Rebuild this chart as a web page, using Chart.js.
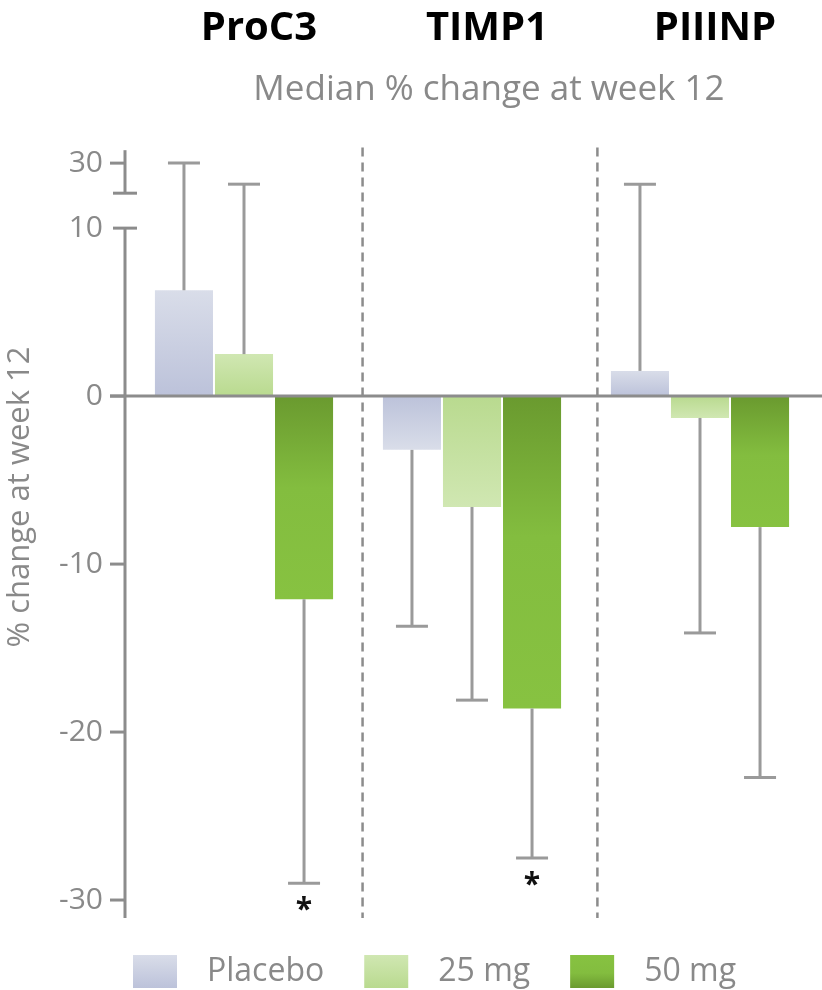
<!DOCTYPE html>
<html><head><meta charset="utf-8">
<script src="https://cdn.jsdelivr.net/npm/chart.js@4"></script>
<style>html,body{margin:0;padding:0;background:#fff;}canvas{display:block;}</style>
</head><body>
<canvas id="c" width="822" height="990"></canvas>
<script>
// ---- data ----
const categories = ['ProC3', 'TIMP1', 'PIIINP'];
const seriesNames = ['Placebo', '25 mg', '50 mg'];
const placebo = [6.3, -3.2, 1.5];
const mg25 = [2.5, -6.6, -1.3];
const mg50 = [-12.1, -18.6, -7.8];
const placeboErr = [30, -13.7, 23];
const mg25Err = [23, -18.1, -14.1];
const mg50Err = [-29.0, -27.5, -22.7];
const placeboSig = ['', '', ''];
const mg25Sig = ['', '', ''];
const mg50Sig = ['*', '*', ''];
const yTickValues = [-30, -20, -10, 0, 10, 30];
const yTickLabels = ['-30', '-20', '-10', '0', '10', '30'];
const dividerAt = [0.52, 1.55];
const subtitleText = 'Median % change at week 12';
const yTitleText = '% change at week 12';

// broken axis: values above 10 are compressed into the top segment
function toDisplay(v) { return v <= 10 ? v : 12.08 + (v - 20) * 0.179; }

const GRAY = '#898989';
const FONT = 'Open Sans';
const placeboStops = [[0, '#bcc2da'], [1, '#d9dde9']];
const mg25Stops = [[0, '#b9da8f'], [1, '#d0e7b2']];
const mg50Stops = [[0, '#6a9a2f'], [0.45, '#83bd3f'], [1, '#87c241']];

function barGradient(stops) {
  return function (ctx) {
    const chart = ctx.chart;
    if (!chart.chartArea || ctx.type !== 'data') return stops[stops.length - 1][1];
    const y = chart.scales.y;
    const y0 = y.getPixelForValue(0), y1 = y.getPixelForValue(ctx.raw);
    if (Math.abs(y1 - y0) < 1) return stops[0][1];
    const g = chart.ctx.createLinearGradient(0, y0, 0, y1);
    stops.forEach(s => g.addColorStop(s[0], s[1]));
    return g;
  };
}

const datasets = [
  { label: seriesNames[0], data: placebo.map(toDisplay), err: placeboErr, sig: placeboSig, stops: placeboStops, backgroundColor: barGradient(placeboStops) },
  { label: seriesNames[1], data: mg25.map(toDisplay), err: mg25Err, sig: mg25Sig, stops: mg25Stops, backgroundColor: barGradient(mg25Stops) },
  { label: seriesNames[2], data: mg50.map(toDisplay), err: mg50Err, sig: mg50Sig, stops: mg50Stops, backgroundColor: barGradient(mg50Stops) }
];

function line(ctx, x1, y1, x2, y2) { ctx.beginPath(); ctx.moveTo(x1, y1); ctx.lineTo(x2, y2); ctx.stroke(); }

const decor = {
  id: 'decor',
  beforeDatasetsDraw(chart) {
    const ctx = chart.ctx, x = chart.scales.x, a = chart.chartArea;
    const x0 = x.getPixelForValue(0), x1 = x.getPixelForValue(1);
    ctx.save();
    ctx.strokeStyle = '#8c8c8c'; ctx.lineWidth = 2.5; ctx.setLineDash([9, 6]);
    dividerAt.forEach(d => { const px = x0 + d * (x1 - x0); line(ctx, px, a.top, px, a.bottom); });
    ctx.restore();
  },
  afterDatasetsDraw(chart) {
    const ctx = chart.ctx, y = chart.scales.y, a = chart.chartArea;
    const py = v => y.getPixelForValue(toDisplay(v));
    ctx.save();
    // error bars
    ctx.strokeStyle = '#9a9a9a'; ctx.lineWidth = 3;
    chart.data.datasets.forEach((ds, i) => {
      chart.getDatasetMeta(i).data.forEach((el, j) => {
        const ye = py(ds.err[j]);
        line(ctx, el.x, el.y, el.x, ye);
        line(ctx, el.x - 16, ye, el.x + 16, ye);
        if (ds.sig[j]) {
          ctx.save();
          ctx.fillStyle = '#111'; ctx.font = 'bold 30px "' + FONT + '"';
          ctx.textAlign = 'center'; ctx.textBaseline = 'alphabetic';
          ctx.fillText(ds.sig[j], el.x, ye + 36);
          ctx.restore();
        }
      });
    });
    // broken y axis
    const ax = a.left - 5;
    ctx.strokeStyle = '#8c8c8c'; ctx.lineWidth = 3;
    const upTop = y.getPixelForValue(14.64), upBot = y.getPixelForValue(12.08);
    line(ctx, ax, upTop, ax, upBot);
    line(ctx, ax - 12, upBot, ax + 12, upBot);
    const mTop = py(10);
    line(ctx, ax, mTop, ax, a.bottom);
    line(ctx, ax - 12, mTop, ax + 12, mTop);
    yTickValues.forEach(v => { if (v !== 10) line(ctx, ax - 15, py(v), ax, py(v)); });
    // zero line
    line(ctx, ax - 15, py(0), chart.width, py(0));
    ctx.restore();
  },
  afterDraw(chart) {
    const ctx = chart.ctx;
    ctx.save();
    ctx.fillStyle = GRAY;
    ctx.font = '35px "' + FONT + '"';
    ctx.textAlign = 'center'; ctx.textBaseline = 'middle';
    ctx.fillText(subtitleText, 489, 90);
    ctx.font = '31px "' + FONT + '"';
    ctx.save();
    ctx.translate(20, 497); ctx.rotate(-Math.PI / 2);
    ctx.fillText(yTitleText, 0, 0);
    ctx.restore();
    // legend
    ctx.font = '32px "' + FONT + '"';
    let lx = 133; const ly = 955, bw = 44, bh = 33;
    ctx.textAlign = 'left';
    chart.data.datasets.forEach(ds => {
      const g = ctx.createLinearGradient(0, ly + bh, 0, ly);
      ds.stops.forEach(s => g.addColorStop(s[0], s[1]));
      ctx.fillStyle = g; ctx.fillRect(lx, ly, bw, bh);
      lx += bw + 30;
      ctx.fillStyle = GRAY;
      ctx.fillText(ds.label, lx, ly + bh / 2);
      lx += ctx.measureText(ds.label).width + 40;
    });
    ctx.restore();
  }
};

new Chart(document.getElementById('c'), {
  type: 'bar',
  data: { labels: categories, datasets: datasets },
  options: {
    responsive: false, animation: false, devicePixelRatio: 1,
    layout: { padding: { left: 0, right: 8, top: 0, bottom: 72 } },
    plugins: { legend: { display: false }, tooltip: { enabled: false } },
    datasets: { bar: { categoryPercentage: 0.79, barPercentage: 0.967 } },
    scales: {
      x: {
        position: 'top',
        grid: { display: false, drawTicks: false }, border: { display: false },
        ticks: { font: { family: FONT, size: 40, weight: 'bold' }, color: '#000', padding: 95, labelOffset: 15, maxRotation: 0, autoSkip: false },
        afterFit(s) { s.height = 147.5; s.paddingLeft = 0; s.paddingRight = 0; }
      },
      y: {
        min: -31.07, max: 14.8,
        grid: { display: false, drawTicks: false }, border: { display: false },
        afterBuildTicks(s) { s.ticks = yTickValues.map(v => ({ value: toDisplay(v) })); },
        ticks: { font: { family: FONT, size: 30 }, color: GRAY, padding: 27, callback: (v, i) => yTickLabels[i] },
        afterFit(s) { s.width = 130; s.paddingTop = 0; s.paddingBottom = 0; }
      }
    }
  },
  plugins: [decor]
});
</script>
</body></html>
